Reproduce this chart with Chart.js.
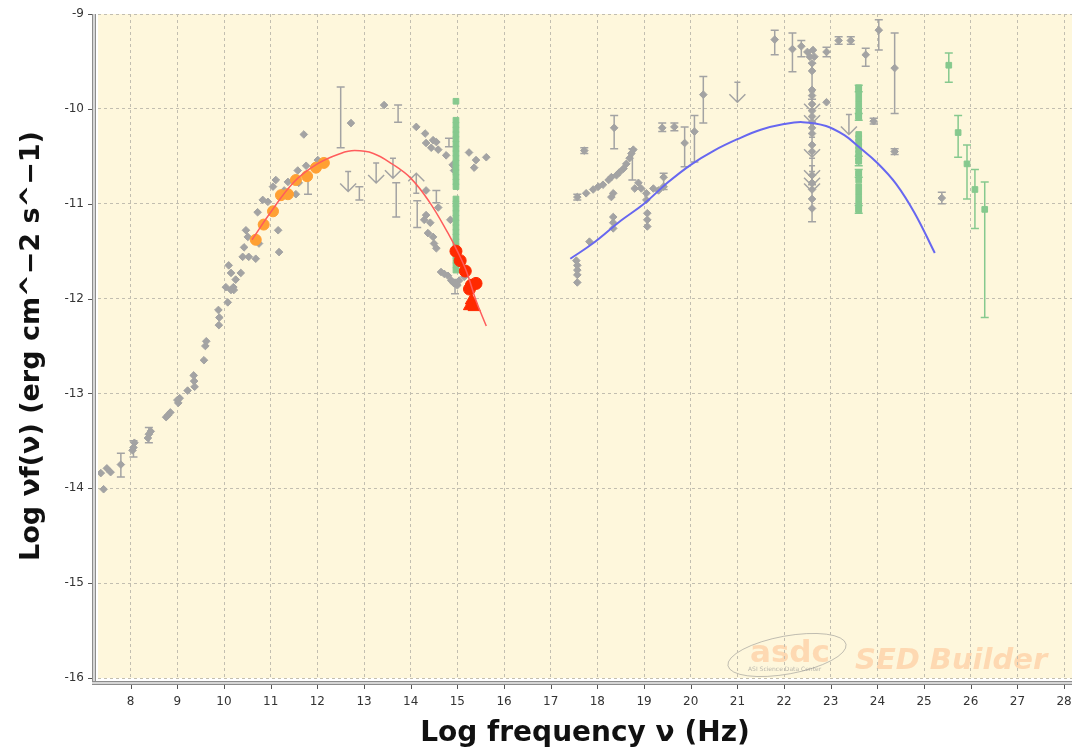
<!DOCTYPE html>
<html>
<head>
<meta charset="utf-8">
<script src="https://cdn.jsdelivr.net/npm/chart.js@4"></script>
<style>
html, body { margin: 0; padding: 0; background: #fff; }
canvas { display: block; }
</style>
</head>
<body>
<canvas id="sed" width="1075" height="752"></canvas>
<script>
// ticks
const xTicks = [8, 9, 10, 11, 12, 13, 14, 15, 16, 17, 18, 19, 20, 21, 22, 23, 24, 25, 26, 27, 28];
const yTicks = [-9, -10, -11, -12, -13, -14, -15, -16];

// archival data, [log nu, log nuFnu]
const radioPoints = [
    [7.36, -13.84], [7.42, -14.01], [7.49, -13.79], [7.57, -13.83], [7.79, -13.75],
    [8.04, -13.6], [8.06, -13.57], [8.08, -13.52], [8.37, -13.47], [8.39, -13.43], [8.43, -13.4],
    [8.76, -13.25], [8.8, -13.23], [8.85, -13.2], [9.0, -13.07], [9.02, -13.1], [9.05, -13.05],
    [9.22, -12.97], [9.35, -12.81], [9.36, -12.87], [9.37, -12.93], [9.57, -12.65], [9.6, -12.5],
    [9.62, -12.45], [9.88, -12.12], [9.9, -12.2], [9.89, -12.28], [10.08, -12.04], [10.15, -11.91], [10.2, -11.88]
];
const irOptPoints = [
    [10.04, -11.88], [10.1, -11.65], [10.15, -11.73], [10.21, -11.91], [10.25, -11.8], [10.36, -11.73],
    [10.4, -11.56], [10.43, -11.46], [10.47, -11.28], [10.51, -11.35], [10.53, -11.56], [10.68, -11.58],
    [10.75, -11.42], [10.72, -11.09], [10.83, -10.96], [10.94, -10.98], [11.05, -10.82], [11.11, -10.75],
    [11.16, -11.28], [11.18, -11.51], [11.29, -10.86], [11.37, -10.77], [11.54, -10.9], [11.58, -10.65],
    [11.6, -10.78], [11.76, -10.6], [11.93, -10.61], [12.01, -10.54], [11.71, -10.27], [12.72, -10.15],
    [13.43, -9.96],
    [14.12, -10.19], [14.31, -10.26], [14.48, -10.33], [14.55, -10.35], [14.33, -10.36], [14.44, -10.41],
    [14.59, -10.43], [14.76, -10.49], [14.9, -10.59], [14.93, -10.65], [14.85, -11.17], [15.25, -10.46],
    [15.4, -10.54], [15.36, -10.62], [15.62, -10.51],
    [14.33, -10.86], [14.33, -11.12], [14.29, -11.17], [14.37, -11.31], [14.48, -11.35], [14.5, -11.42],
    [14.55, -11.47], [14.59, -11.04], [14.42, -11.2],
    [14.65, -11.72], [14.72, -11.74], [14.8, -11.76], [14.87, -11.81], [14.93, -11.84], [15.04, -11.81],
    [15.15, -11.77], [15.0, -11.86]
];
const xrayPoints = [
    [17.57, -10.93], [17.76, -10.89], [17.91, -10.85], [18.02, -10.82], [18.12, -10.8], [18.24, -10.75],
    [18.3, -10.72], [18.41, -10.7], [18.47, -10.67], [18.56, -10.63], [18.62, -10.58], [18.69, -10.52],
    [18.73, -10.47], [18.77, -10.43], [18.34, -10.89], [18.3, -10.93], [18.34, -11.14], [18.34, -11.2],
    [18.34, -11.26], [17.83, -11.4], [17.55, -11.6], [17.57, -11.65], [17.57, -11.7], [17.57, -11.75],
    [17.57, -11.83], [17.72, -10.44], [18.36, -10.2], [18.8, -10.84], [18.88, -10.78], [18.94, -10.84],
    [19.05, -10.89], [19.05, -10.96], [19.07, -11.1], [19.07, -11.17], [19.07, -11.24], [19.2, -10.84],
    [19.31, -10.86], [19.42, -10.82], [19.42, -10.72], [19.39, -10.2], [19.65, -10.19], [19.87, -10.36],
    [20.08, -10.24], [20.27, -9.85]
];
const gammaPoints = [
    [21.8, -9.27], [22.18, -9.37], [22.37, -9.34], [22.5, -9.4], [22.55, -9.45], [22.62, -9.38],
    [22.65, -9.45], [22.91, -9.4], [23.17, -9.28], [23.43, -9.28], [23.75, -9.43], [24.03, -9.17],
    [24.37, -9.57], [22.91, -9.93], [23.92, -10.13], [24.37, -10.45], [25.38, -10.94],
    [22.6, -9.52], [22.6, -9.6], [22.6, -9.8], [22.6, -9.86], [22.6, -9.95], [22.6, -10.02],
    [22.6, -10.08], [22.6, -10.14], [22.6, -10.2], [22.6, -10.26], [22.6, -10.38], [22.6, -10.45],
    [22.6, -10.7], [22.6, -10.78], [22.6, -10.85], [22.6, -10.95], [22.6, -11.05]
];
// [log nu, value, low, high]
const grayErrors = [
    [7.79, -13.75, -13.88, -13.63], [8.06, -13.57, -13.67, -13.5], [8.39, -13.45, -13.52, -13.36],
    [11.8, -10.82, -10.9, -10.72], [12.5, -10.01, -10.41, -9.77], [12.9, -10.89, -10.96, -10.82],
    [13.73, -10.05, -10.14, -9.96], [13.69, -10.93, -11.14, -10.78], [14.14, -11.09, -11.25, -10.97],
    [14.55, -10.93, -10.99, -10.86], [14.82, -10.36, -10.4, -10.31], [14.95, -11.88, -11.95, -11.8],
    [17.72, -10.44, -10.47, -10.41], [18.36, -10.2, -10.42, -10.07], [17.57, -10.93, -10.96, -10.9],
    [19.39, -10.2, -10.24, -10.15], [19.65, -10.19, -10.23, -10.15], [19.87, -10.36, -10.61, -10.19],
    [20.08, -10.24, -10.56, -10.07], [20.27, -9.85, -10.15, -9.66], [18.75, -10.5, -10.75, -10.42],
    [19.42, -10.75, -10.85, -10.68],
    [21.8, -9.27, -9.43, -9.17], [22.18, -9.37, -9.61, -9.2], [22.37, -9.34, -9.45, -9.28],
    [22.91, -9.4, -9.45, -9.35], [23.17, -9.28, -9.32, -9.24], [23.43, -9.28, -9.32, -9.24],
    [23.75, -9.43, -9.55, -9.36], [24.03, -9.17, -9.38, -9.06], [24.37, -9.57, -10.05, -9.2],
    [23.92, -10.13, -10.16, -10.1], [24.37, -10.45, -10.48, -10.42], [25.38, -10.94, -11.0, -10.88],
    [22.6, -10.95, -11.19, -10.8], [22.6, -9.8, -9.9, -9.52]
];
const upperLimits = [
    [12.66, -10.66], [13.26, -10.57], [13.62, -10.52], [21.0, -9.72], [23.39, -10.06],
    [22.6, -9.82], [22.6, -9.94], [22.6, -10.3], [22.6, -10.52], [22.6, -10.6], [22.6, -10.66]
];
const lowerLimits = [[14.12, -10.89]];

// new data
const greenBand15 = [-9.92, -10.12, -10.17, -10.22, -10.27, -10.32, -10.37, -10.42, -10.47, -10.52,
    -10.57, -10.62, -10.67, -10.72, -10.77, -10.82, -10.95, -11.0, -11.05, -11.1, -11.15, -11.2,
    -11.25, -11.3, -11.35, -11.4, -11.45, -11.5, -11.55, -11.6, -11.65, -11.7];
const greenBand236 = [-9.78, -9.84, -9.9, -9.96, -10.02, -10.08, -10.27, -10.31, -10.35, -10.39,
    -10.43, -10.47, -10.51, -10.55, -10.68, -10.75, -10.82, -10.88, -10.94, -11.0, -11.06];
const greenErrors = [
    [25.53, -9.54, -9.72, -9.41], [25.73, -10.25, -10.51, -10.07], [25.92, -10.58, -10.95, -10.38],
    [26.09, -10.85, -11.26, -10.64], [26.3, -11.06, -12.2, -10.77],
    [23.6, -9.78, -9.82, -9.75], [23.6, -10.08, -10.12, -10.05], [23.6, -10.55, -10.6, -10.5],
    [23.6, -10.68, -10.72, -10.64], [23.6, -11.06, -11.1, -11.02]
];
const orangePoints = [
    [10.68, -11.38], [10.85, -11.22], [11.05, -11.08], [11.22, -10.91], [11.37, -10.9],
    [11.54, -10.75], [11.78, -10.71], [11.97, -10.62], [12.14, -10.57]
];
const redPoints = [
    [14.97, -11.5], [15.06, -11.6], [15.17, -11.71], [15.3, -11.86], [15.4, -11.84], [15.26, -11.9]
];
const redTriangles = [[15.3, -12.02], [15.36, -12.09], [15.26, -12.08]];

// fitted curves
const syncCurve = [
    [10.6, -11.38], [11.0, -11.09], [11.5, -10.77], [12.0, -10.58], [12.5, -10.47], [12.8, -10.44],
    [13.2, -10.47], [13.6, -10.58], [14.0, -10.73], [14.4, -10.98], [14.8, -11.31], [15.0, -11.5],
    [15.2, -11.72], [15.4, -12.02], [15.62, -12.29]
];
const icCurve = [
    [17.42, -11.58], [17.9, -11.42], [18.5, -11.18], [19.0, -11.0], [19.5, -10.78], [20.0, -10.59],
    [20.5, -10.44], [21.0, -10.32], [21.5, -10.22], [22.0, -10.16], [22.4, -10.14], [22.9, -10.18],
    [23.3, -10.28], [23.6, -10.4], [24.0, -10.57], [24.4, -10.79], [24.8, -11.1], [25.23, -11.52]
];

const GRAY = '#a3a3a3';
const GREEN = '#86c98e';

function pts(list) {
    return list.map(p => ({ x: p[0], y: p[1] }));
}

const sedDecor = {
    id: 'sedDecor',
    beforeDraw(chart) {
        const ctx = chart.ctx;
        const a = chart.chartArea;
        ctx.save();
        ctx.fillStyle = '#fef7dc';
        ctx.fillRect(a.left, a.top, a.right - a.left, a.bottom - a.top);

        // watermark
        ctx.fillStyle = 'rgba(253, 196, 150, 0.6)';
        ctx.font = 'bold italic 29px "DejaVu Sans"';
        ctx.textBaseline = 'alphabetic';
        ctx.fillText('SED Builder', 855, 669);
        ctx.font = 'bold 31px "DejaVu Sans"';
        ctx.fillText('asdc', 750, 662);
        ctx.strokeStyle = 'rgba(140, 140, 140, 0.55)';
        ctx.lineWidth = 1;
        ctx.beginPath();
        ctx.ellipse(787, 655, 60, 19, -0.18, 0, Math.PI * 2);
        ctx.stroke();
        ctx.fillStyle = 'rgba(140, 140, 140, 0.6)';
        ctx.font = '6px "DejaVu Sans"';
        ctx.fillText('ASI Science Data Center', 748, 671);
        ctx.restore();
    },
    beforeDatasetsDraw(chart) {
        const ctx = chart.ctx;
        const xs = chart.scales.x, ys = chart.scales.y;
        ctx.save();
        ctx.lineWidth = 1.5;

        function errBars(list, color) {
            ctx.strokeStyle = color;
            list.forEach(e => {
                const px = xs.getPixelForValue(e[0]);
                const lo = ys.getPixelForValue(e[2]);
                const hi = ys.getPixelForValue(e[3]);
                ctx.beginPath();
                ctx.moveTo(px, lo); ctx.lineTo(px, hi);
                ctx.moveTo(px - 4, lo); ctx.lineTo(px + 4, lo);
                ctx.moveTo(px - 4, hi); ctx.lineTo(px + 4, hi);
                ctx.stroke();
            });
        }
        errBars(grayErrors, GRAY);
        errBars(greenErrors, GREEN);

        ctx.strokeStyle = GRAY;
        upperLimits.forEach(u => {
            const px = xs.getPixelForValue(u[0]);
            const py = ys.getPixelForValue(u[1]);
            ctx.beginPath();
            ctx.moveTo(px - 3, py); ctx.lineTo(px + 3, py);
            ctx.moveTo(px, py); ctx.lineTo(px, py + 20);
            ctx.moveTo(px - 8, py + 12); ctx.lineTo(px, py + 20); ctx.lineTo(px + 8, py + 12);
            ctx.stroke();
        });
        lowerLimits.forEach(u => {
            const px = xs.getPixelForValue(u[0]);
            const py = ys.getPixelForValue(u[1]);
            ctx.beginPath();
            ctx.moveTo(px - 3, py); ctx.lineTo(px + 3, py);
            ctx.moveTo(px, py); ctx.lineTo(px, py - 20);
            ctx.moveTo(px - 8, py - 12); ctx.lineTo(px, py - 20); ctx.lineTo(px + 8, py - 12);
            ctx.stroke();
        });
        ctx.restore();
    },
    afterDraw(chart) {
        const ctx = chart.ctx;
        const a = chart.chartArea;
        const xs = chart.scales.x, ys = chart.scales.y;
        ctx.save();
        // axis bars, drawn a few px outside the plot
        ctx.fillStyle = '#d6d6d6';
        ctx.fillRect(a.left - 6, a.top, 4, a.bottom - a.top + 6);
        ctx.fillRect(a.left - 6, a.bottom + 3, a.right - a.left + 6, 4);
        ctx.strokeStyle = '#8c8c8c';
        ctx.lineWidth = 1;
        ctx.beginPath();
        ctx.moveTo(a.left - 5.5, a.top); ctx.lineTo(a.left - 5.5, a.bottom + 4);
        ctx.moveTo(a.left - 2.5, a.top); ctx.lineTo(a.left - 2.5, a.bottom + 4);
        ctx.moveTo(a.left - 6, a.bottom + 3.5); ctx.lineTo(a.right, a.bottom + 3.5);
        ctx.moveTo(a.left - 6, a.bottom + 6.5); ctx.lineTo(a.right, a.bottom + 6.5);
        ctx.stroke();
        ctx.strokeStyle = '#555';
        ctx.beginPath();
        xTicks.forEach(v => {
            const px = Math.round(xs.getPixelForValue(v)) + 0.5;
            ctx.moveTo(px, a.bottom + 7); ctx.lineTo(px, a.bottom + 11);
        });
        yTicks.forEach(v => {
            const py = Math.round(ys.getPixelForValue(v)) + 0.5;
            ctx.moveTo(a.left - 10, py); ctx.lineTo(a.left - 6, py);
        });
        ctx.stroke();
        ctx.restore();
    }
};

new Chart(document.getElementById('sed'), {
    type: 'scatter',
    data: {
        datasets: [
            {
                label: 'sync fit',
                data: pts(syncCurve),
                showLine: true,
                borderColor: '#ff5c5c',
                borderWidth: 1.5,
                pointRadius: 0,
                tension: 0.4,
                order: 1
            },
            {
                label: 'IC fit',
                data: pts(icCurve),
                showLine: true,
                borderColor: '#6767f0',
                borderWidth: 2,
                pointRadius: 0,
                tension: 0.4,
                order: 1
            },
            {
                label: 'red',
                data: pts(redPoints),
                pointStyle: 'circle',
                pointRadius: 6,
                backgroundColor: '#ff2a00',
                borderColor: '#ff2a00',
                order: 2
            },
            {
                label: 'red tri',
                data: pts(redTriangles),
                pointStyle: 'triangle',
                pointRadius: 7,
                backgroundColor: '#ff2a00',
                borderColor: '#ff2a00',
                order: 2
            },
            {
                label: 'orange',
                data: pts(orangePoints),
                pointStyle: 'circle',
                pointRadius: 5.5,
                backgroundColor: '#ffa033',
                borderColor: '#ffa033',
                order: 3
            },
            {
                label: 'green',
                data: greenBand15.map(v => ({ x: 14.97, y: v }))
                    .concat(greenBand236.map(v => ({ x: 23.6, y: v })))
                    .concat(greenErrors.map(e => ({ x: e[0], y: e[1] }))),
                pointStyle: 'rect',
                pointRadius: 4,
                backgroundColor: GREEN,
                borderColor: GREEN,
                order: 4
            },
            {
                label: 'archival',
                data: pts(radioPoints).concat(pts(irOptPoints), pts(xrayPoints), pts(gammaPoints)),
                pointStyle: 'rectRot',
                pointRadius: 3.8,
                backgroundColor: GRAY,
                borderColor: GRAY,
                order: 5
            }
        ]
    },
    options: {
        responsive: false,
        animation: false,
        devicePixelRatio: 1,
        layout: { autoPadding: false, padding: { top: 14, right: 3, left: 0, bottom: 0 } },
        plugins: {
            legend: { display: false },
            tooltip: { enabled: false }
        },
        scales: {
            x: {
                type: 'linear',
                min: 7.3,
                max: 28.17,
                afterBuildTicks: scale => { scale.ticks = xTicks.map(v => ({ value: v })); },
                afterFit: scale => {
                    scale.height = 74;
                    scale.paddingLeft = 0;
                    scale.paddingRight = 0;
                },
                grid: { color: '#c2beb0', drawTicks: false },
                border: { display: false, dash: [3, 3] },
                ticks: {
                    padding: 17,
                    color: '#333',
                    font: { family: 'DejaVu Sans', size: 12 }
                },
                title: {
                    display: true,
                    text: 'Log frequency ν (Hz)',
                    color: '#111',
                    font: { family: 'DejaVu Sans', size: 28, weight: 'bold' },
                    padding: { top: 0, bottom: 1 }
                }
            },
            y: {
                type: 'linear',
                min: -16,
                max: -9,
                afterBuildTicks: scale => { scale.ticks = yTicks.map(v => ({ value: v })); },
                afterFit: scale => {
                    scale.width = 98;
                    scale.paddingTop = 0;
                    scale.paddingBottom = 0;
                },
                grid: { color: '#c2beb0', drawTicks: false },
                border: { display: false, dash: [3, 3] },
                ticks: {
                    padding: 14,
                    color: '#333',
                    font: { family: 'DejaVu Sans', size: 12 }
                },
                title: {
                    display: true,
                    text: 'Log νf(ν) (erg cm^−2 s^−1)',
                    color: '#111',
                    font: { family: 'DejaVu Sans', size: 27, weight: 'bold' },
                    padding: { top: 16, bottom: 0 }
                }
            }
        }
    },
    plugins: [sedDecor]
});
</script>
</body>
</html>
